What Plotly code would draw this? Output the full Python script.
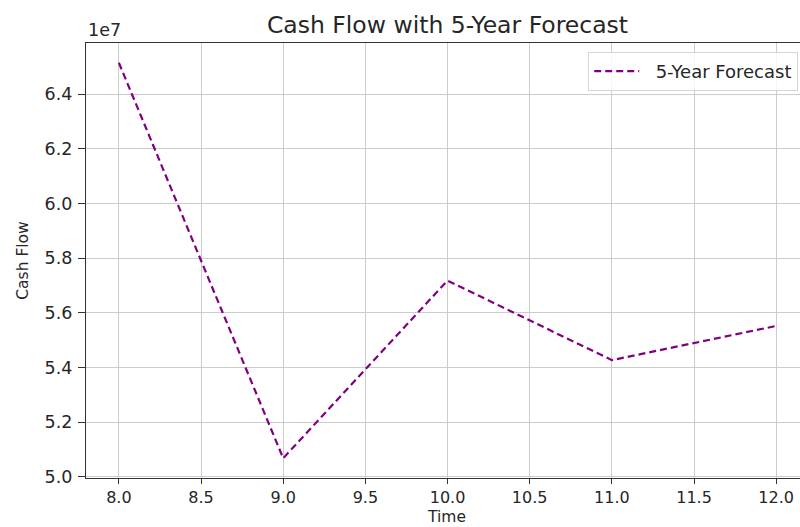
import plotly.graph_objects as go

time = [8, 9, 10, 11, 12]
cash_flow = [65.15e6, 50.68e6, 57.18e6, 54.27e6, 55.52e6]
y_ticks = [5.0e7, 5.2e7, 5.4e7, 5.6e7, 5.8e7, 6.0e7, 6.2e7, 6.4e7]
y_tick_labels = ["5.0", "5.2", "5.4", "5.6", "5.8", "6.0", "6.2", "6.4"]
x_ticks = [8.0, 8.5, 9.0, 9.5, 10.0, 10.5, 11.0, 11.5, 12.0]
x_tick_labels = ["8.0", "8.5", "9.0", "9.5", "10.0", "10.5", "11.0", "11.5", "12.0"]

FONT = "DejaVu Sans"
TXT = "#262626"

fig = go.Figure()
fig.add_trace(go.Scatter(
    x=time, y=cash_flow, mode="lines", name="\u00a0\u00a05-Year Forecast",
    line=dict(color="#800080", width=2.2, dash="7px,4px"),
))

ymin, ymax = min(cash_flow), max(cash_flow)
pad = (ymax - ymin) * 0.05

fig.update_layout(
    width=800, height=527,
    margin=dict(l=86, r=0, t=43, b=49),
    paper_bgcolor="white", plot_bgcolor="white",
    font=dict(family=FONT, color=TXT, size=17),
    title=dict(text="Cash Flow with 5-Year Forecast", x=447.5 / 800, xanchor="center",
               y=1 - 25 / 527, yanchor="middle",
               font=dict(family=FONT, size=23.5, color=TXT)),
    showlegend=True,
    legend=dict(x=0.9975, xanchor="right", y=1 - 9 / 435, yanchor="top",
                bgcolor="rgba(255,255,255,0.8)", bordercolor="#d6d6d6", borderwidth=1,
                font=dict(family=FONT, size=18, color=TXT), itemwidth=45),
    xaxis=dict(range=[7.8, 12.145], tickvals=x_ticks, ticktext=x_tick_labels,
               showgrid=True, gridcolor="#cccccc", gridwidth=1.4,
               showline=True, linecolor="#333333", linewidth=1.2, mirror=True,
               ticks="outside", ticklen=5, tickcolor="#333333", zeroline=False,
               tickfont=dict(family=FONT, size=16, color=TXT)),
    yaxis=dict(range=[ymin - pad, ymax + pad], tickvals=y_ticks, ticktext=y_tick_labels,
               showgrid=True, gridcolor="#cccccc", gridwidth=1.2,
               showline=True, linecolor="#333333", linewidth=1.2, mirror=True,
               ticks="outside", ticklen=7, tickcolor="#333333", zeroline=False,
               ticklabelstandoff=2,
               tickfont=dict(family=FONT, size=17.5, color=TXT),
               title=dict(text="Cash Flow", standoff=12, font=dict(family=FONT, size=15.5, color=TXT))),
)
fig.add_annotation(text="1e7", xref="paper", yref="paper", x=0, y=1, xanchor="left",
                   yanchor="bottom", showarrow=False, yshift=1,
                   font=dict(family=FONT, size=17.5, color=TXT))
fig.add_annotation(text="Time", xref="paper", yref="paper", x=(446 - 86) / 714, y=0,
                   xanchor="center", yanchor="bottom", showarrow=False, yshift=-49,
                   borderpad=0, font=dict(family=FONT, size=15.5, color=TXT))

fig.write_html("out.html")
